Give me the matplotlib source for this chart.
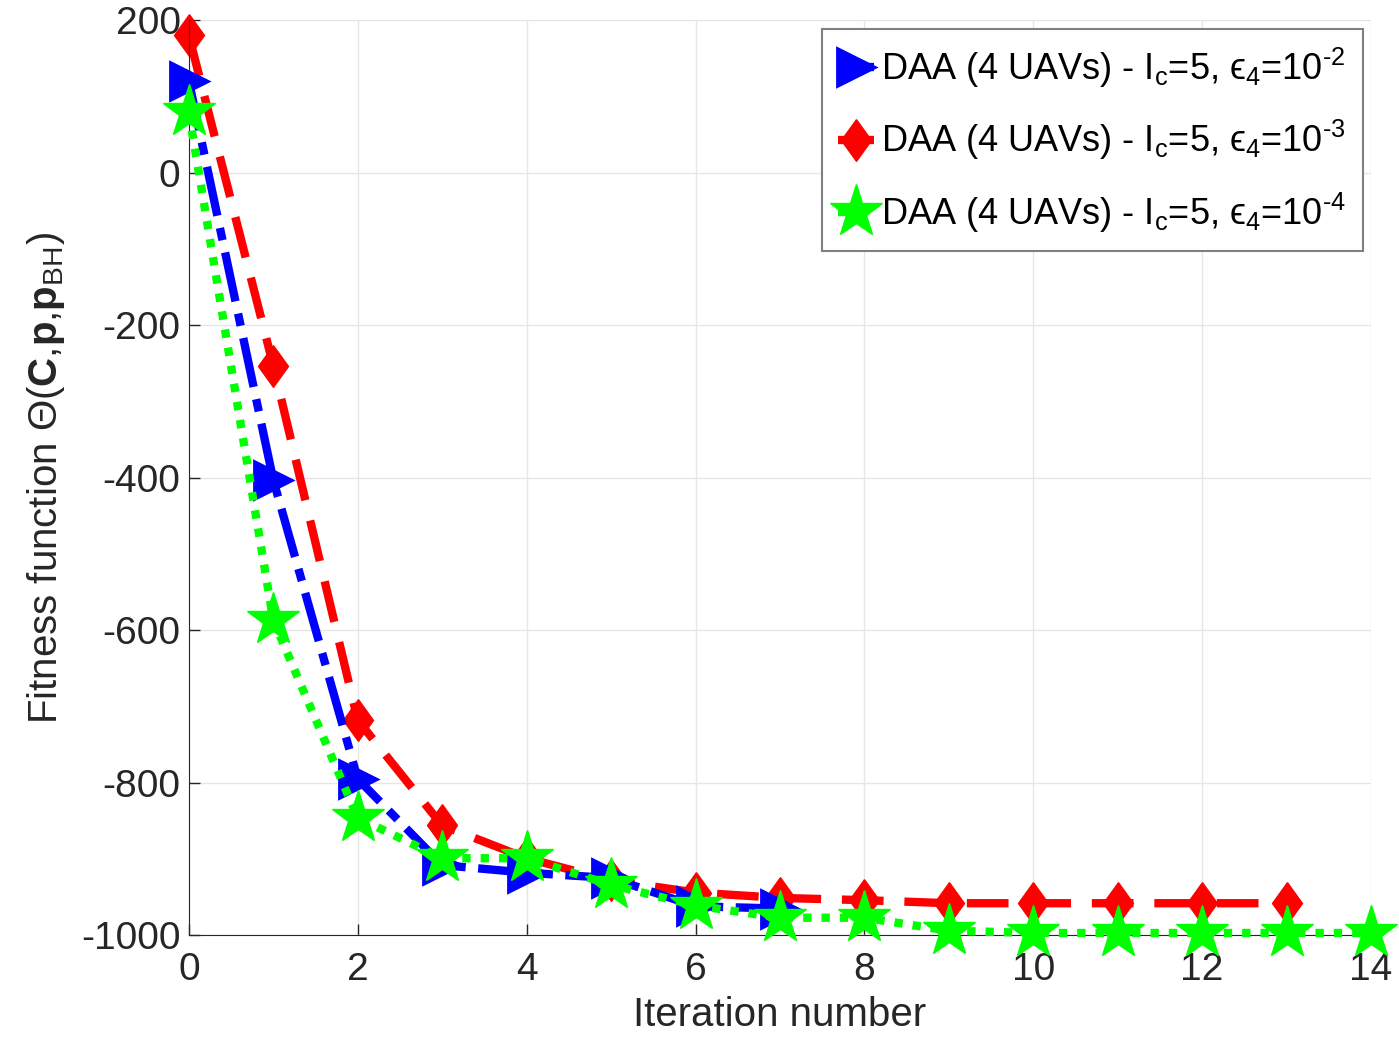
import matplotlib
matplotlib.use("Agg")
import matplotlib.pyplot as plt
import numpy as np

plt.rcParams['font.family'] = ['Liberation Sans', 'DejaVu Sans']
plt.rcParams['mathtext.fontset'] = 'custom'
plt.rcParams['mathtext.rm'] = 'Liberation Sans'
plt.rcParams['mathtext.it'] = 'Liberation Sans:italic'
plt.rcParams['mathtext.bf'] = 'Liberation Sans:bold'
plt.rcParams['axes.unicode_minus'] = False

# data
iters_blue = [0, 1, 2, 3, 4, 5, 6, 7]
fit_blue = [120, -403, -795, -908, -918, -925, -962, -965]

iters_red = list(range(14))
fit_red = [180, -253, -718, -856, -899, -928, -944, -951, -954, -958, -958, -958, -958, -958]

iters_green = list(range(15))
fit_green = [79, -587, -846, -899, -899, -934, -961, -977, -977, -994, -997, -997, -997, -997, -997]

eps = ['2', '3', '4']
labels = ['DAA (4 UAVs) - I$_{\\rm c}$=5, \u03f5$_{\\rm 4}$=10$^{\\rm \u2010' + e + '}$' for e in eps]

# matlab style diamond, a bit wider than 'd'
diamond = [(0, 1), (0.72, 0), (0, -1), (-0.72, 0), (0, 1)]

fig = plt.figure(figsize=(13.99, 10.64), dpi=100)
ax = fig.add_axes([0.135, 0.121, 0.845, 0.86])

ax.plot(iters_blue, fit_blue, color='#0000ff', lw=6, dashes=(6, 1.5, 1.5, 1.5),
        marker='>', ms=27, mfc='#0000ff', mec='#0000ff', mew=2, label=labels[0],
        zorder=3, clip_on=False)
ax.plot(iters_red, fit_red, color='#ff0000', lw=6, dashes=(5, 2.5),
        marker=diamond, ms=30, mfc='#ff0000', mec='#ff0000', mew=1, label=labels[1],
        zorder=2, clip_on=False)
ax.plot(iters_green, fit_green, color='#00ff00', lw=6, dashes=(1, 1.2),
        marker='*', ms=40, mfc='#00ff00', mec='#00ff00', mew=1, label=labels[2],
        zorder=4, clip_on=False)

ax.set_xlim(0, 14)
ax.set_ylim(-1000, 200)
ax.set_xticks(np.arange(0, 15, 2))
ax.set_yticks(np.arange(-1000, 201, 200))
ax.tick_params(direction='in', labelsize=28, length=8, width=1, colors='#262626')
ax.tick_params(axis='x', pad=12)
ax.tick_params(axis='y', pad=6)
ax.grid(True, color='#e6e6e6', lw=1)
ax.set_axisbelow(True)
for s in ['top', 'right']:
    ax.spines[s].set_visible(False)
for s in ['left', 'bottom']:
    ax.spines[s].set_color('#262626')

ax.set_xlabel('Iteration number', fontsize=29, color='#262626', labelpad=6)
ax.set_ylabel(r'Fitness function $\Theta$($\mathbf{C}$,$\mathbf{p}$,$\mathbf{p}_{\rm BH}$)',
              fontsize=29, color='#262626', labelpad=10)

leg = ax.legend(loc='upper right', bbox_to_anchor=(0.993, 0.99), fontsize=26,
                handlelength=1.0, handletextpad=0.2, borderpad=0.45, labelspacing=0.78,
                fancybox=False, framealpha=1, edgecolor='#808080', borderaxespad=0)
leg.get_frame().set_linewidth(1.5)

fig.savefig('out.png', dpi=100)
